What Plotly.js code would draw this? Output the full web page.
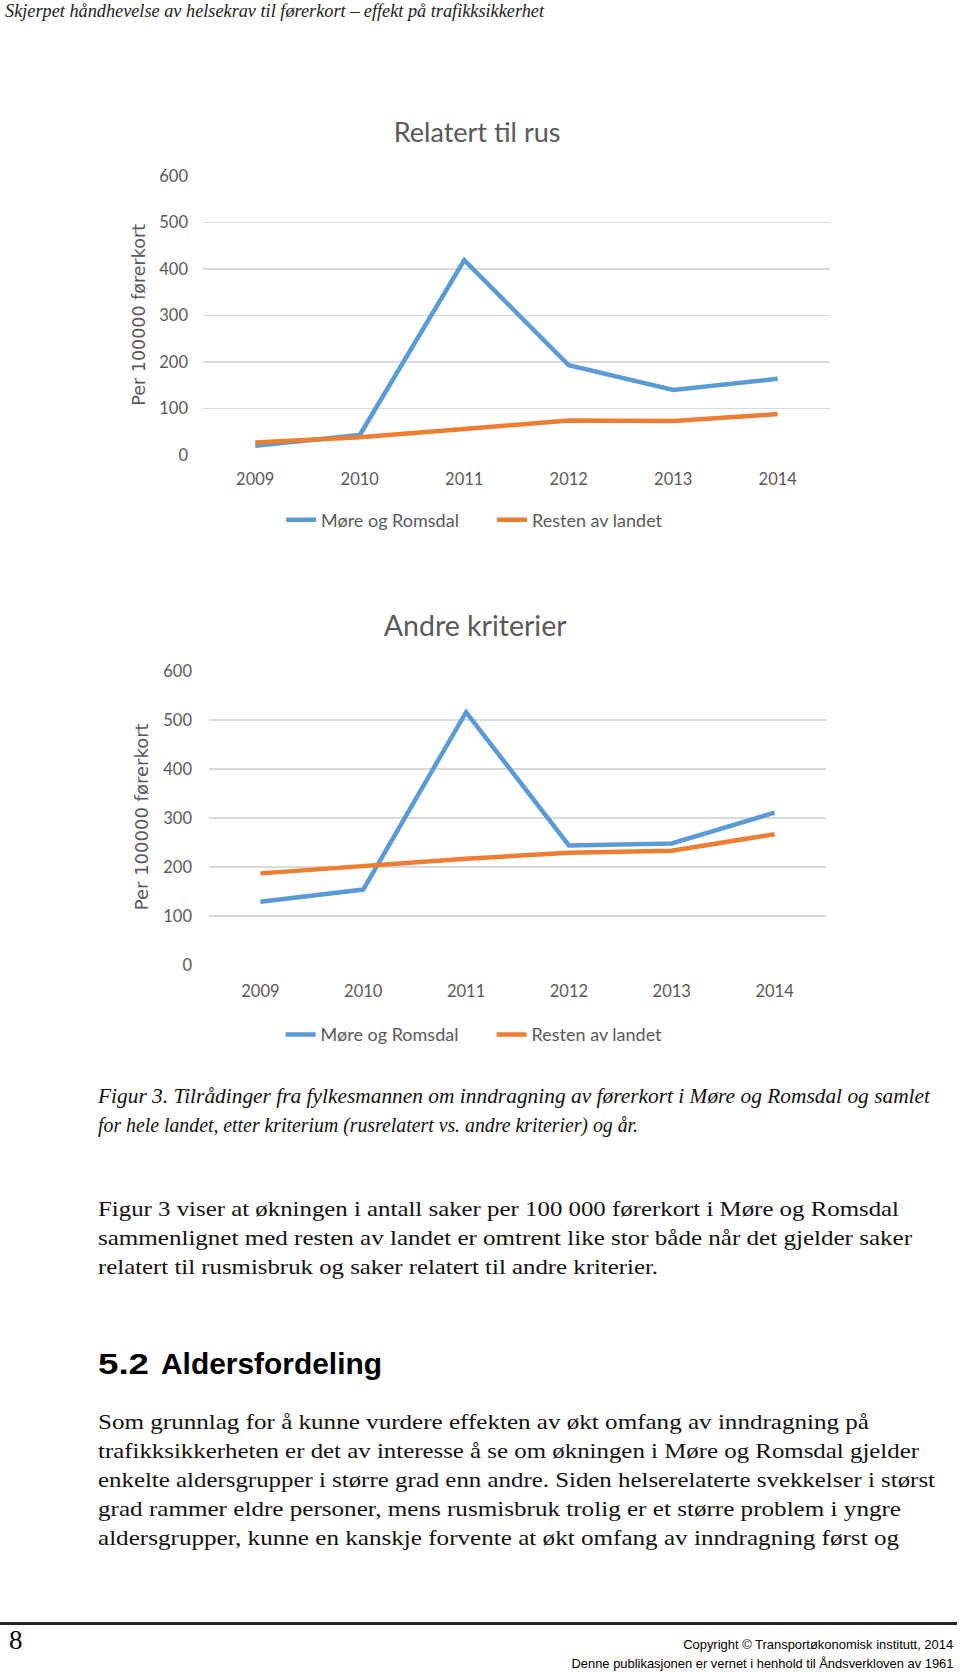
<!DOCTYPE html>
<html>
<head>
<meta charset="utf-8">
<script src="https://cdn.plot.ly/plotly-3.0.1.min.js"></script>
<style>
  html, body { margin:0; padding:0; background:#fff; }
  body { width:960px; height:1672px; position:relative; overflow:hidden; }
  .t { position:absolute; white-space:nowrap; color:#111; transform-origin:left center; }
  .r { transform-origin:right center; }
  .serif { font-family:"Liberation Serif","DejaVu Serif",serif; }
  .it { font-style:italic; }
  .sans { font-family:"Liberation Sans",Arial,sans-serif; }
  #c1 { position:absolute; left:0; top:90px; width:960px; height:470px; }
  #c2 { position:absolute; left:0; top:580px; width:960px; height:490px; }
  #rule { position:absolute; left:0; top:1622px; width:957px; height:3px; background:#222; }
</style>
</head>
<body>
<div class="t serif it" data-w="539" style="left:5px; top:0px; font-size:18px; line-height:22px; color:#222;">Skjerpet håndhevelse av helsekrav til førerkort – effekt på trafikksikkerhet</div>

<div id="c1"></div>
<div id="c2"></div>

<div class="t serif it" data-w="832" style="left:98px; top:1083px; font-size:21px; line-height:26px;">Figur 3. Tilrådinger fra fylkesmannen om inndragning av førerkort i Møre og Romsdal og samlet</div>
<div class="t serif it" data-w="540" style="left:98px; top:1112px; font-size:21px; line-height:26px;">for hele landet, etter kriterium (rusrelatert vs. andre kriterier) og år.</div>

<div class="t serif" data-w="801" style="left:98px; top:1196px; font-size:21px; line-height:26px;">Figur 3 viser at økningen i antall saker per 100 000 førerkort i Møre og Romsdal</div>
<div class="t serif" data-w="814" style="left:98px; top:1225px; font-size:21px; line-height:26px;">sammenlignet med resten av landet er omtrent like stor både når det gjelder saker</div>
<div class="t serif" data-w="560" style="left:98px; top:1254px; font-size:21px; line-height:26px;">relatert til rusmisbruk og saker relatert til andre kriterier.</div>

<div class="t sans" data-w="51" style="left:98px; top:1348px; font-size:29px; line-height:32px; font-weight:bold; color:#000;">5.2</div>
<div class="t sans" data-w="221" style="left:161px; top:1348px; font-size:29px; line-height:32px; font-weight:bold; color:#000;">Aldersfordeling</div>

<div class="t serif" data-w="771" style="left:98px; top:1409px; font-size:21px; line-height:26px;">Som grunnlag for å kunne vurdere effekten av økt omfang av inndragning på</div>
<div class="t serif" data-w="821" style="left:98px; top:1438px; font-size:21px; line-height:26px;">trafikksikkerheten er det av interesse å se om økningen i Møre og Romsdal gjelder</div>
<div class="t serif" data-w="837" style="left:98px; top:1467px; font-size:21px; line-height:26px;">enkelte aldersgrupper i større grad enn andre. Siden helserelaterte svekkelser i størst</div>
<div class="t serif" data-w="803" style="left:98px; top:1496px; font-size:21px; line-height:26px;">grad rammer eldre personer, mens rusmisbruk trolig er et større problem i yngre</div>
<div class="t serif" data-w="801" style="left:98px; top:1525px; font-size:21px; line-height:26px;">aldersgrupper, kunne en kanskje forvente at økt omfang av inndragning først og</div>

<div id="rule"></div>
<div class="t serif" style="left:9px; top:1625px; font-size:27px; line-height:30px; color:#000;">8</div>
<div class="t sans r" data-w="270" style="right:7px; top:1637px; font-size:13px; line-height:16px; color:#000;">Copyright © Transportøkonomisk institutt, 2014</div>
<div class="t sans r" data-w="382" style="right:7px; top:1656px; font-size:13px; line-height:16px; color:#000;">Denne publikasjonen er vernet i henhold til Åndsverkloven av 1961</div>

<script>
// ---- data ----
const years = ['2009', '2010', '2011', '2012', '2013', '2014'];
const yTicks = [0, 100, 200, 300, 400, 500, 600];
const seriesNames = ['Møre og Romsdal', 'Resten av landet'];
const rusMore = [20, 43, 419, 193, 140, 164];
const rusResten = [27, 38, 56, 74, 73, 88];
const andreMore = [129, 154, 516, 244, 248, 311];
const andreResten = [187, 202, 217, 229, 233, 267];
const titles = ['Relatert til rus', 'Andre kriterier'];
const yTitle = 'Per 100000 førerkort';

const BLUE = '#5B9BD5', ORANGE = '#ED7D31', GREY = '#595959', GRID = '#D9D9D9';
const tickFont = { family: 'Lato, "Open Sans", sans-serif', size: 16.5, color: GREY };

function makeChart(id, title, more, resten, opts) {
  const traces = [
    { x: years, y: more, name: seriesNames[0], type: 'scatter', mode: 'lines',
      line: { color: BLUE, width: 4.5 } },
    { x: years, y: resten, name: seriesNames[1], type: 'scatter', mode: 'lines',
      line: { color: ORANGE, width: 4.5 } }
  ];
  const layout = {
    width: 960, height: opts.h,
    margin: opts.m,
    paper_bgcolor: '#fff', plot_bgcolor: '#fff',
    showlegend: true,
    title: { text: title, x: opts.tx, xref: 'container', xanchor: 'center',
             y: opts.ty, yref: 'container', yanchor: 'middle',
             font: { family: 'Lato, "Open Sans", sans-serif', size: opts.tf, color: GREY } },
    xaxis: { type: 'category', range: [-0.5, 5.5], showgrid: false, zeroline: false,
             showline: false, ticks: '', tickfont: tickFont, ticklabelstandoff: opts.xs,
             fixedrange: true, automargin: false },
    yaxis: { range: [0, 600], tickvals: yTicks, showgrid: true, gridcolor: GRID, gridwidth: 1.5,
             zeroline: false, showline: false, ticks: '', tickfont: tickFont,
             ticklabelstandoff: opts.ys, fixedrange: true, automargin: false },
    legend: { orientation: 'h', x: opts.lx, xref: 'paper', xanchor: 'center',
              y: opts.ly, yref: 'paper', yanchor: 'middle', entrywidth: 166,
              font: { family: 'Lato, "Open Sans", sans-serif', size: 18, color: GREY } },
    annotations: [{ text: yTitle, xref: 'paper', yref: 'paper', x: opts.ax, y: 0.503,
                    xanchor: 'center', yanchor: 'middle', textangle: -90, showarrow: false,
                    font: { family: '"DejaVu Sans", sans-serif', size: opts.af, color: GREY } }]
  };
  return Plotly.newPlot(id, traces, layout, { staticPlot: true, displayModeBar: false });
}

makeChart('c1', titles[0], rusMore, rusResten,
  { h: 470, m: { l: 203, r: 130, t: 86, b: 104.5 }, tx: 0.497, ty: 0.9085, tf: 27,
    xs: 12, ys: 14, lx: 0.461, ly: -0.233, ax: -0.102, af: 17.5 });
makeChart('c2', titles[1], andreMore, andreResten,
  { h: 490, m: { l: 209, r: 134, t: 91, b: 104.7 }, tx: 0.495, ty: 0.906, tf: 28.5,
    xs: 14, ys: 16, lx: 0.458, ly: -0.237, ax: -0.110, af: 18 });

function fitAll() {
  document.querySelectorAll('.t[data-w]').forEach(el => {
    el.style.transform = '';
    const nat = el.getBoundingClientRect().width;
    const w = +el.dataset.w;
    if (nat > 0) el.style.transform = 'scaleX(' + (w / nat) + ')';
  });
}
if (document.fonts && document.fonts.ready) document.fonts.ready.then(fitAll); else fitAll();
fitAll();
</script>
</body>
</html>
